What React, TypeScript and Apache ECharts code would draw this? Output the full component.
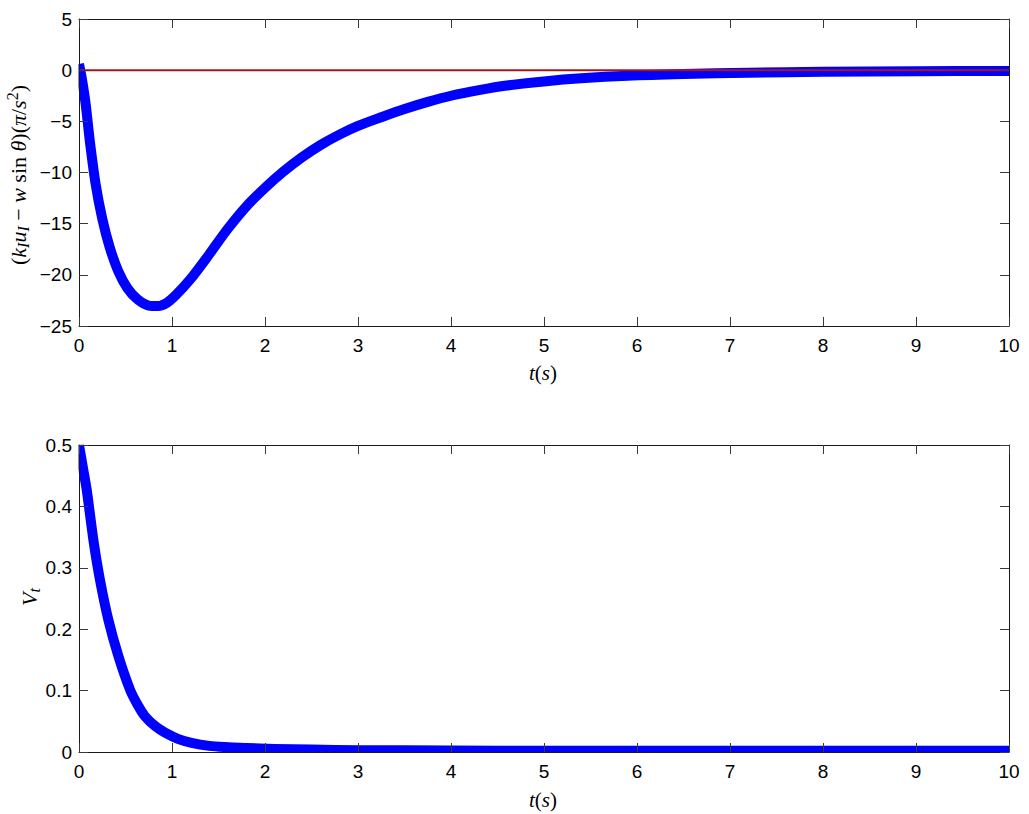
import React, { useEffect, useRef } from "react";
import * as echarts from "echarts";

// top plot: (k_I u_I - w sin θ)(π/s²) vs t
const t1 = [0, 0.03, 0.07, 0.12, 0.18, 0.25, 0.33, 0.42, 0.52, 0.63, 0.75, 0.85, 0.95, 1.05, 1.2, 1.4, 1.6, 1.8, 2.0, 2.2, 2.4, 2.6, 2.8, 3.0, 3.25, 3.5, 3.75, 4.0, 4.3, 4.6, 5.0, 5.4, 5.9, 6.5, 7.2, 8.0, 9.0, 10];
const v1 = [0.6, -0.8, -3.2, -7.2, -11.2, -14.5, -17.3, -19.6, -21.3, -22.4, -23.0, -23.05, -22.7, -21.9, -20.4, -18.0, -15.5, -13.3, -11.5, -9.9, -8.5, -7.3, -6.3, -5.45, -4.6, -3.8, -3.1, -2.5, -1.95, -1.5, -1.1, -0.8, -0.55, -0.38, -0.25, -0.15, -0.1, -0.07];
// reference line at zero
const refT = [0, 10];
const refV = [0, 0];
// bottom plot: V_t vs t
const t2 = [0, 0.04, 0.083, 0.155, 0.226, 0.316, 0.424, 0.55, 0.63, 0.71, 0.82, 0.93, 1.07, 1.21, 1.4, 1.57, 1.8, 2.1, 2.5, 3, 4, 5, 6, 7, 8, 9, 10];
const v2 = [0.5, 0.465, 0.427, 0.345, 0.28, 0.215, 0.156, 0.101, 0.077, 0.058, 0.042, 0.031, 0.021, 0.015, 0.01, 0.008, 0.0065, 0.005, 0.004, 0.003, 0.0025, 0.002, 0.002, 0.002, 0.002, 0.002, 0.002];

const xTicks = { min: 0, max: 10, interval: 1 };
const yTop = { min: -25, max: 5, interval: 5 };
const yBot = { min: 0, max: 0.5, interval: 0.1 };

const zip = (a: number[], b: number[]) => a.map((x, i) => [x, b[i]]);

const LINE = "#1a1a1a";
const TICK = "#3a3a3a";
const labelFont = { fontFamily: "Liberation Sans, Arial, sans-serif", fontSize: 19, color: "#000" };

function xAxis(grid: number, pos: "bottom" | "top", labels: boolean) {
  return {
    type: "value",
    gridIndex: grid,
    position: pos,
    z: 20,
    ...xTicks,
    axisLine: { show: true, onZero: false, lineStyle: { color: LINE, width: 1 } },
    axisTick: { show: true, inside: true, length: 9, lineStyle: { color: TICK } },
    axisLabel: { show: labels, margin: 10, ...labelFont },
    splitLine: { show: false },
  };
}
function yAxis(grid: number, pos: "left" | "right", labels: boolean, range: any, fmt?: (v: number) => string) {
  return {
    type: "value",
    gridIndex: grid,
    position: pos,
    z: 20,
    ...range,
    axisLine: { show: true, onZero: false, lineStyle: { color: LINE, width: 1 } },
    axisTick: { show: true, inside: true, length: 9, lineStyle: { color: TICK } },
    axisLabel: { show: labels, margin: 7, ...labelFont, formatter: fmt },
    splitLine: { show: false },
  };
}

const serif = "Liberation Serif, DejaVu Serif, serif";
const mkRich = (fs: number) => ({
  n: { fontFamily: serif, fontSize: fs, lineHeight: fs + 5, verticalAlign: "middle", color: "#000" },
  i: { fontFamily: serif, fontStyle: "italic", fontSize: fs, lineHeight: fs + 5, verticalAlign: "middle", color: "#000" },
  s: { fontFamily: serif, fontStyle: "italic", fontSize: fs - 6, lineHeight: fs - 6, verticalAlign: "bottom", color: "#000" },
  sup: { fontFamily: serif, fontSize: fs - 6, lineHeight: fs - 6, verticalAlign: "top", color: "#000" },
});

function label(text: string, x: number, y: number, rot = 0, fs = 21) {
  return {
    type: "text",
    x,
    y,
    rotation: rot,
    z: 30,
    style: { text, rich: mkRich(fs), align: "center", verticalAlign: "middle", fill: "#000" },
  };
}

function mask(x: number, y: number, w: number, h: number) {
  return { type: "rect", z: 10, shape: { x, y, width: w, height: h }, style: { fill: "#fff" }, silent: true };
}

export default function App() {
  const ref = useRef<HTMLDivElement>(null);
  useEffect(() => {
    document.body.style.margin = "0";
    const chart = echarts.init(ref.current!, undefined, { renderer: "svg" });
    chart.setOption({
      animation: false,
      backgroundColor: "#fff",
      grid: [
        { left: 79, top: 19, width: 930, height: 307 },
        { left: 79, top: 445, width: 930, height: 307 },
      ],
      xAxis: [xAxis(0, "bottom", true), xAxis(0, "top", false), xAxis(1, "bottom", true), xAxis(1, "top", false)],
      yAxis: [
        yAxis(0, "left", true, yTop, (v: number) => String(v).replace("-", "\u2212")),
        yAxis(0, "right", false, yTop),
        yAxis(1, "left", true, yBot, (v: number) => (v === 0 ? "0" : v.toFixed(1))),
        yAxis(1, "right", false, yBot),
      ],
      series: [
        {
          type: "line",
          xAxisIndex: 0,
          yAxisIndex: 0,
          data: zip(t1, v1),
          smooth: 0.3,
          symbol: "none",
          clip: true,
          lineStyle: { color: "#0000ff", width: 10, cap: "butt", join: "round" },
          z: 2,
        },
        {
          type: "line",
          xAxisIndex: 0,
          yAxisIndex: 0,
          data: zip(refT, refV),
          symbol: "none",
          lineStyle: { color: "#a8161c", width: 2 },
          z: 3,
        },
        {
          type: "line",
          xAxisIndex: 2,
          yAxisIndex: 2,
          data: zip(t2, v2),
          smooth: 0.3,
          symbol: "none",
          clip: true,
          lineStyle: { color: "#0000ff", width: 10, cap: "butt", join: "round" },
          z: 2,
        },
      ],
      graphic: [
        // keep the thick lines inside the plot boxes
        mask(70, 10, 8.5, 325),
        mask(1009.5, 10, 12, 325),
        mask(70, 10, 951, 8.5),
        mask(70, 434, 8.5, 327),
        mask(1009.5, 434, 12, 327),
        mask(70, 434, 951, 10.5),
        mask(70, 752.5, 951, 7),
        label("{i|t}{n|(}{i|s}{n|)}", 543, 373),
        label("{i|t}{n|(}{i|s}{n|)}", 543, 800),
        label("{n|(}{i|k}{s|I}{i|u}{s|I}{n| \u2212 }{i|w}{n| sin }{i|\u03b8}{n|)(}{i|\u03c0}{n|/}{i|s}{sup|2}{n|)}", 18, 175, Math.PI / 2, 22),
        label("{i|V}{s|t}", 29, 597, Math.PI / 2, 22),
      ],
    });
    return () => chart.dispose();
  }, []);
  return <div ref={ref} style={{ width: 1029, height: 814 }} />;
}
